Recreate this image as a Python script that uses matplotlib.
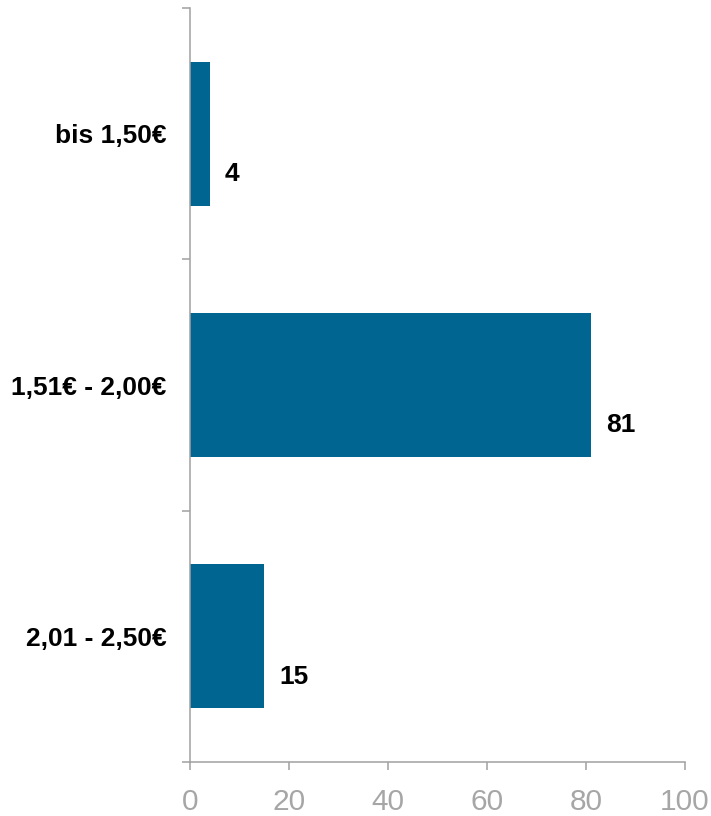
import matplotlib
matplotlib.use("Agg")
import matplotlib.pyplot as plt

categories = ["bis 1,50€", "1,51€ - 2,00€", "2,01 - 2,50€"]
values = [4, 81, 15]
xticks = [0, 20, 40, 60, 80, 100]

plt.rcParams['font.family'] = ['Liberation Sans', 'DejaVu Sans']

fig = plt.figure(figsize=(7.11, 8.16), dpi=100)
ax = fig.add_axes([190/711, 1 - 762/816, (685-190)/711, (762-8)/816])

pos = list(range(len(categories)))
bar_color = "#006691"
ax.barh(pos, values, height=0.573, color=bar_color)

ax.set_xlim(0, 100)
ax.set_ylim(len(categories) - 0.5, -0.5)

gray = "#A0A0A0"
for s in ["top", "right"]:
    ax.spines[s].set_visible(False)
for s in ["left", "bottom"]:
    ax.spines[s].set_color(gray)
    ax.spines[s].set_linewidth(1.1)

ax.set_xticks(xticks)
ax.set_xticklabels([str(t) for t in xticks])
ax.tick_params(axis='x', direction='out', length=6, width=1.1, color=gray,
               labelsize=21.5, labelcolor="#A6A6A6", pad=13)

# category labels at centers without tick marks
ax.set_yticks(pos)
ax.set_yticklabels(categories, fontsize=19, fontweight='bold', color='black')
ax.tick_params(axis='y', which='major', length=0, pad=17)
# boundary ticks
ax.set_yticks([p - 0.5 for p in pos] + [len(pos) - 0.5], minor=True)
ax.tick_params(axis='y', which='minor', direction='out', length=6, width=1.1, color=gray)

for p, v in zip(pos, values):
    ax.annotate(str(v), xy=(v, p), xytext=(11, -29), textcoords='offset points',
                ha='left', va='center', fontsize=19, fontweight='bold', color='black')

fig.savefig("out.png", dpi=100)
